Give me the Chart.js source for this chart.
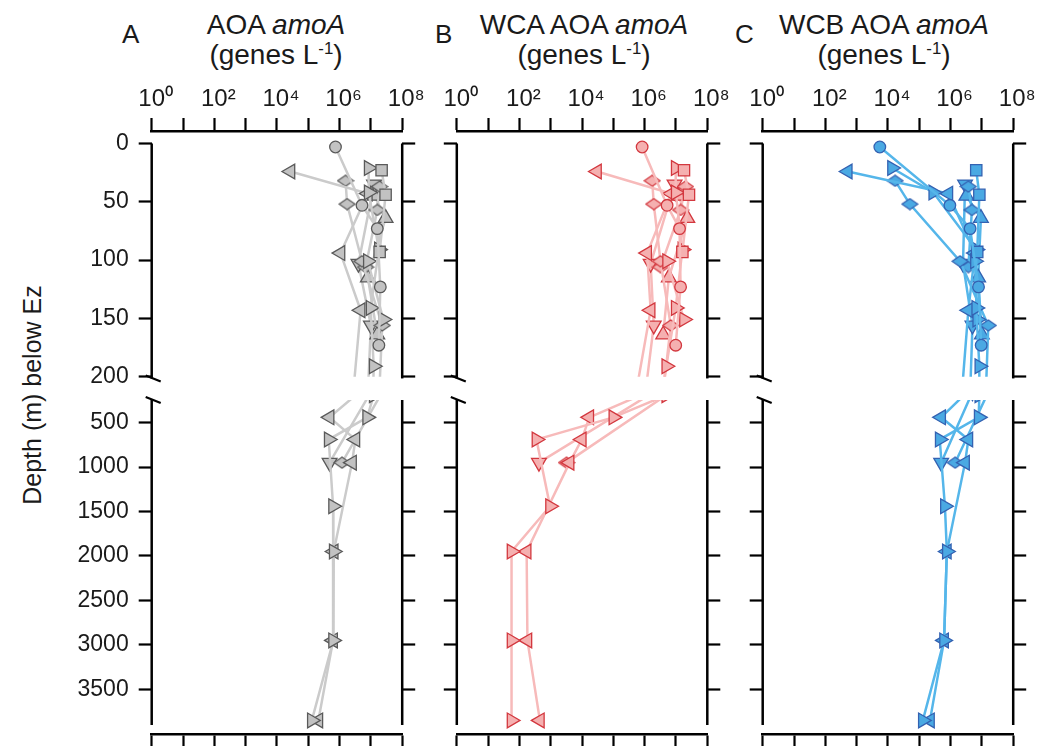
<!DOCTYPE html>
<html>
<head>
<meta charset="utf-8">
<script src="https://cdn.jsdelivr.net/npm/chart.js@4.4.1/dist/chart.umd.min.js"></script>
<style>
  body { margin: 0; width: 1040px; height: 746px; overflow: hidden; background: #fff; position: relative;
         font-family: "Liberation Sans", Arial, sans-serif; color: #1a1a1a; }
  canvas { position: absolute; }
  .letter { position: absolute; font-size: 26px; line-height: 26px; }
  .title { position: absolute; width: 260px; font-size: 28px; line-height: 30px; text-align: center; white-space: nowrap; }
  .title sup { font-size: 0.6em; vertical-align: 0; position: relative; top: -0.6em; }
  .ylab { position: absolute; left: 32px; top: 395px; font-size: 25px; white-space: nowrap;
          transform: translate(-50%, -50%) rotate(-90deg); }
</style>
</head>
<body>
<div class="letter" style="left:122px;top:21px">A</div>
<div class="letter" style="left:435px;top:21px">B</div>
<div class="letter" style="left:735px;top:21px">C</div>
<div class="title" style="left:146px;top:10px">AOA <i>amoA</i><br>(genes L<sup>-1</sup>)</div>
<div class="title" style="left:454px;top:10px">WCA AOA <i>amoA</i><br>(genes L<sup>-1</sup>)</div>
<div class="title" style="left:754px;top:10px">WCB AOA <i>amoA</i><br>(genes L<sup>-1</sup>)</div>
<div class="ylab">Depth (m) below Ez</div>

<script>
// depth (m below Ez) and abundance (genes L-1) per station
// aoa = total AOA amoA (A), wca = WCA AOA amoA (B), wcb = WCB AOA amoA (C)
const depthCircle = [3, 53, 73, 123, 173];
const aoaCircle = [7.4e5, 5.2e6, 1.6e7, 2.0e7, 1.8e7];
const wcaCircle = [8.3e5, 5.2e6, 1.3e7, 1.4e7, 9.8e6];
const wcbCircle = [5.5e3, 9.5e5, 4.2e6, 7.8e6, 9.5e6];

const depthSquare = [23, 44, 93];
const aoaSquare = [2.2e7, 2.95e7, 1.9e7];
const wcaSquare = [1.8e7, 2.6e7, 1.6e7];
const wcbSquare = [6.6e6, 8.3e6, 7.1e6];

const depthRight = [21, 42, 91, 141, 191, 440, 690, 1440, 1950, 2950, 3850];
const aoaRight = [8.5e6, 8.5e6, 1.8e7, 9.8e6, 1.23e7, 7.6e6, 4.5e5, 6.2e5, 6.5e5, 6.2e5, 1.3e5];
const wcaRight = [9.8e6, 9.8e6, 1.6e7, 9.8e6, 4.9e6, 1.0e5, 3.5e2, 9.5e2, 56, 56, 56];
const wcbRight = [1.35e4, 2.8e5, 6.6e6, 6.6e6, 8.3e6, 7.9e6, 4.5e5, 6.6e5, 7.6e5, 6.2e5, 1.3e5];

const depthRight2 = [101, 151];
const aoaRight2 = [8.0e6, 2.5e7];
const wcaRight2 = [5.2e6, 1.8e7];
const wcbRight2 = [6.0e6, 7.1e6];

const depthLeft = [24, 43, 94, 143, 440, 690, 950, 1950, 2950, 3850];
const aoaLeft = [2.7e4, 8.0e6, 1.07e6, 4.7e6, 4.8e5, 3.2e6, 2.5e6, 6.5e5, 6.2e5, 2.1e5];
const wcaLeft = [3.0e4, 7.0e6, 1.2e6, 1.55e6, 1.7e4, 9.8e3, 4.0e3, 1.7e2, 1.8e2, 4.5e2];
const wcbLeft = [5.2e2, 8.5e5, 6.0e6, 3.7e6, 5.0e5, 3.7e6, 2.9e6, 7.6e5, 6.2e5, 2.2e5];

const depthDiamond1 = [32, 52, 101, 156, 950];
const aoaDiamond1 = [1.55e6, 1.74e6, 5.2e6, 2.3e7, 1.2e6];
const wcaDiamond1 = [1.74e6, 1.95e6, 3.2e6, 6.8e6, 3.2e3];
const wcbDiamond1 = [1.7e4, 5.0e4, 2.0e6, 1.6e7, 1.4e6];

const depthDiamond2 = [37, 57, 106];
const aoaDiamond2 = [1.9e7, 1.6e7, 6.8e6];
const wcaDiamond2 = [2.0e7, 1.4e7, 3.2e6];
const wcbDiamond2 = [3.7e6, 4.8e6, 3.7e6];

const depthUp = [45, 64, 115, 164];
const aoaUp = [1.3e7, 2.95e7, 8.0e6, 1.6e7];
const wcaUp = [1.2e7, 2.3e7, 5.9e6, 3.9e6];
const wcbUp = [3.2e6, 9.3e6, 7.6e6, 1.0e7];

const depthDown = [35, 103, 156, 950];
const aoaDown = [1.26e7, 4.0e6, 1.0e7, 4.8e5];
const wcaDown = [9.0e6, 1.55e6, 1.95e6, 4.2e2];
const wcbDown = [2.9e6, 2.5e6, 5.0e6, 5.0e5];

// axis ticks
const xTicks = [1e0, 1e1, 1e2, 1e3, 1e4, 1e5, 1e6, 1e7, 1e8];
const depthTicksUpper = [0, 50, 100, 150, 200];
const depthTicksLower = [500, 1000, 1500, 2000, 2500, 3000, 3500];

const stations = [
  {marker: 'circle', depth: depthCircle, A: aoaCircle, B: wcaCircle, C: wcbCircle},
  {marker: 'square', depth: depthSquare, A: aoaSquare, B: wcaSquare, C: wcbSquare},
  {marker: 'right', depth: depthRight, A: aoaRight, B: wcaRight, C: wcbRight},
  {marker: 'right', depth: depthRight2, A: aoaRight2, B: wcaRight2, C: wcbRight2},
  {marker: 'left', depth: depthLeft, A: aoaLeft, B: wcaLeft, C: wcbLeft},
  {marker: 'diamond', depth: depthDiamond1, A: aoaDiamond1, B: wcaDiamond1, C: wcbDiamond1},
  {marker: 'diamond', depth: depthDiamond2, A: aoaDiamond2, B: wcaDiamond2, C: wcbDiamond2},
  {marker: 'up', depth: depthUp, A: aoaUp, B: wcaUp, C: wcbUp},
  {marker: 'down', depth: depthDown, A: aoaDown, B: wcaDown, C: wcbDown}
];

const FONT = '"Liberation Sans", Arial, sans-serif';
const SUP = {0: '\u2070', 2: '\u00B2', 4: '\u2074', 6: '\u2076', 8: '\u2078'};

const colors = {
  A: {line: '#cbcbcb', fill: '#c2c2c2', edge: '#5a5a5a'},
  B: {line: '#f7baba', fill: '#f5b0b0', edge: '#d3383f'},
  C: {line: '#55b6ea', fill: '#4aa9e3', edge: '#3462b2'}
};

// flattened diamond marker, as the figure uses
function diamondImage(c) {
  const cv = document.createElement('canvas');
  cv.width = 18; cv.height = 13;
  const g = cv.getContext('2d');
  g.beginPath();
  g.moveTo(1, 6.5); g.lineTo(9, 1); g.lineTo(17, 6.5); g.lineTo(9, 12);
  g.closePath();
  g.fillStyle = c.fill; g.fill();
  g.strokeStyle = c.edge; g.lineWidth = 1.3; g.stroke();
  return cv;
}

const markers = {
  circle: {style: 'circle', r: 5.8, rot: 0},
  square: {style: 'rect', r: 8, rot: 0},
  diamond: {style: 'diamond', r: 8, rot: 0},
  up: {style: 'triangle', r: 8.5, rot: 0},
  down: {style: 'triangle', r: 8.5, rot: 180},
  left: {style: 'triangle', r: 8.5, rot: -90},
  right: {style: 'triangle', r: 8.5, rot: 90}
};

const panels = [
  {key: 'A', left: 0, width: 430, axisLeft: 151.7, labels: true},
  {key: 'B', left: 430, width: 305, axisLeft: 456.8, labels: false},
  {key: 'C', left: 735, width: 305, axisLeft: 762.7, labels: false}
];
const AXIS_W = 250.5;

// draws the offset left/right spines and the axis break mark
const spinePlugin = {
  id: 'spines',
  afterDraw(chart, args, opts) {
    const ctx = chart.ctx, y = chart.scales.y, a = chart.chartArea;
    const y0 = y.getPixelForValue(opts.from), y1 = y.getPixelForValue(opts.to);
    ctx.save();
    ctx.strokeStyle = '#000';
    ctx.lineWidth = 2.5;
    [a.left, a.right].forEach(x => {
      ctx.beginPath(); ctx.moveTo(x, y0); ctx.lineTo(x, y1); ctx.stroke();
    });
    const yb = opts.brk === 'bottom' ? y1 : y0;
    ctx.lineWidth = 2.2;
    ctx.beginPath();
    ctx.moveTo(a.left - 6, yb - 3);
    ctx.lineTo(a.left + 9, yb + 3);
    ctx.stroke();
    ctx.restore();
  }
};

function yAxis(pos, showLabels, range, ticks, fitW) {
  return {
    type: 'linear', position: pos, reverse: true, min: range[0], max: range[1], display: true,
    afterBuildTicks: s => { s.ticks = ticks.map(v => ({value: v})); },
    afterFit: s => { s.width = fitW; s.paddingTop = 0; s.paddingBottom = 0; },
    grid: {drawOnChartArea: false, drawTicks: true, tickLength: 13, tickWidth: 2.2, tickColor: '#000'},
    border: {display: false},
    ticks: {display: showLabels, padding: 10, autoSkip: false, color: '#1a1a1a',
            font: {family: FONT, size: 23}, callback: v => String(v)}
  };
}

function xAxis(pos, showLabels, fitH) {
  return {
    type: 'logarithmic', position: pos, min: 1, max: 1e8,
    afterBuildTicks: s => { s.ticks = xTicks.map(v => ({value: v})); },
    afterFit: s => { s.height = fitH; s.paddingLeft = 0; s.paddingRight = 0; },
    grid: {drawOnChartArea: false, drawTicks: true, tickLength: 13, tickWidth: 2.2, tickColor: '#000'},
    border: {display: true, color: '#000', width: 2.5},
    ticks: {
      display: showLabels, padding: 4, labelOffset: 4, autoSkip: false, maxRotation: 0, minRotation: 0,
      color: '#1a1a1a', font: {family: FONT, size: 24},
      callback: v => {
        const e = Math.round(Math.log10(v));
        return e % 2 === 0 ? '10' + SUP[e] : '';
      }
    }
  };
}

function datasets(key) {
  const c = colors[key];
  const diamond = diamondImage(c);
  return stations.map(s => {
    const m = markers[s.marker];
    return {
      data: s.depth.map((d, i) => ({x: s[key][i], y: d})),
      showLine: true,
      borderColor: c.line,
      borderWidth: 2.5,
      pointStyle: m.style === 'diamond' ? diamond : m.style,
      pointRadius: m.r,
      pointHoverRadius: m.r,
      pointRotation: m.rot,
      pointBackgroundColor: c.fill,
      pointBorderColor: c.edge,
      pointBorderWidth: 1.3
    };
  });
}

function makeChart(p, upper) {
  const cv = document.createElement('canvas');
  const top = upper ? 80 : 390;
  const h = upper ? 316 : 370;
  cv.width = p.width; cv.height = h;
  cv.style.left = p.left + 'px'; cv.style.top = top + 'px';
  document.body.appendChild(cv);
  const leftW = p.axisLeft - p.left;
  const rightW = p.left + p.width - (p.axisLeft + AXIS_W);
  const range = upper ? [-10.7, 200] : [245, 4003];
  const ticks = upper ? depthTicksUpper : depthTicksLower;
  new Chart(cv, {
    type: 'scatter',
    data: {datasets: datasets(p.key)},
    options: {
      responsive: false,
      animation: false,
      events: [],
      layout: {padding: upper ? {top: 0, bottom: 19.3, left: 0, right: 0} : {top: 10, bottom: 0, left: 0, right: 0}},
      plugins: {
        legend: {display: false},
        tooltip: {enabled: false},
        spines: upper ? {from: 0, to: 201.5, brk: 'bottom'} : {from: 245, to: 3902, brk: 'top'}
      },
      scales: {
        x: xAxis(upper ? 'top' : 'bottom', upper, upper ? 51 : 26),
        y: yAxis('left', p.labels, range, ticks, leftW),
        y2: yAxis('right', false, range, ticks, rightW)
      }
    },
    plugins: [spinePlugin]
  });
}

panels.forEach(p => { makeChart(p, true); makeChart(p, false); });
</script>
</body>
</html>
